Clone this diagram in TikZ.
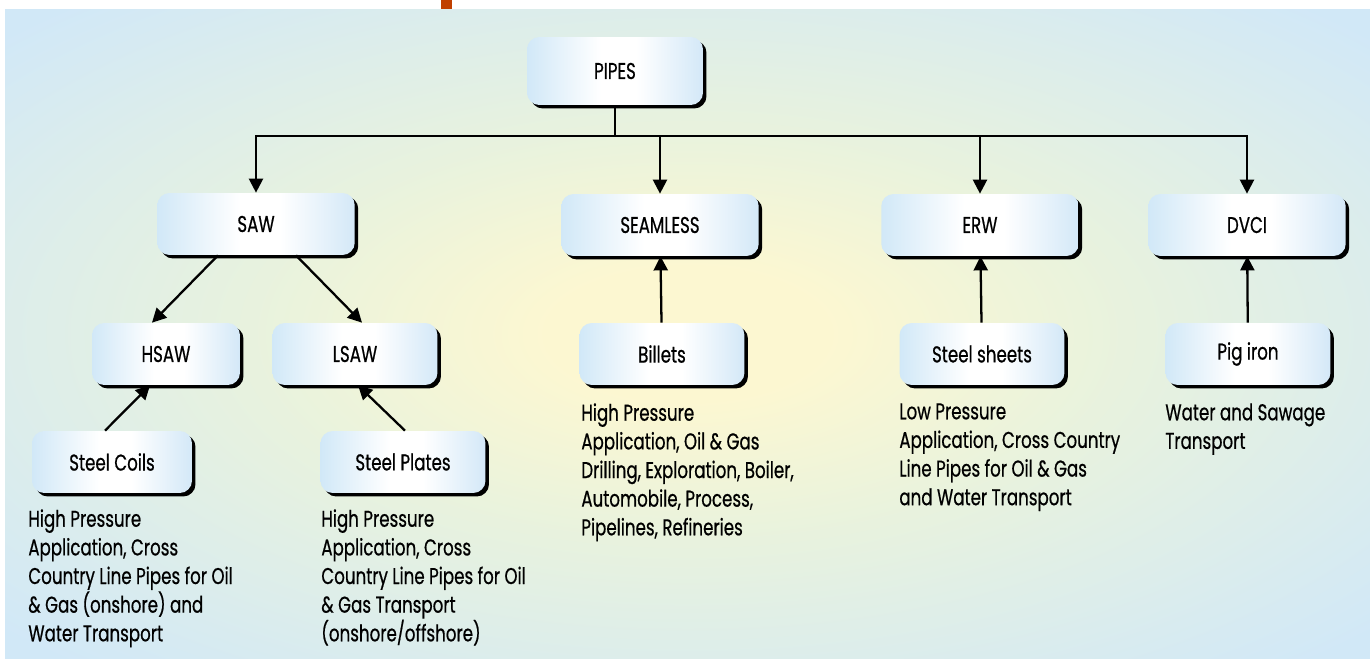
\documentclass[tikz,border=0pt]{standalone}
\usepackage{fontspec}
\setmainfont{Poppins}[FakeStretch=0.73, FakeBold=0.6]
\usepackage{tikz}
\usetikzlibrary{positioning,calc,shadows,arrows.meta}
\pgfdeclareradialshading{panelshade}{\pgfpoint{0bp}{0bp}}{rgb(0bp)=(0.99,0.97,0.82); rgb(5bp)=(0.99,0.97,0.82); rgb(16bp)=(0.91,0.95,0.87); rgb(34bp)=(0.82,0.91,0.97); rgb(50bp)=(0.82,0.91,0.97)}
\pgfdeclarehorizontalshading{boxshade}{100bp}{rgb(0bp)=(0.82,0.91,0.97); rgb(25bp)=(0.82,0.91,0.97); rgb(46bp)=(1,1,1); rgb(56bp)=(1,1,1); rgb(75bp)=(0.83,0.91,0.97); rgb(100bp)=(0.83,0.91,0.97)}
\definecolor{barorange}{RGB}{192,64,0}

\begin{document}
\begin{tikzpicture}[x=0.02cm, y=-0.02cm,
  box/.style={shade, shading=boxshade, rounded corners=7pt,
              drop shadow={shadow xshift=0.07cm, shadow yshift=-0.07cm,
                           opacity=1, fill=black},
              minimum height=1.24cm, inner sep=2pt,
              font=\fontsize{13}{15}\selectfont},
  cat/.style={box, minimum width=3.95cm},
  src/.style={box, minimum width=3.3cm},
  use/.style={anchor=north west, align=left, inner sep=0pt,
              font=\fontsize{13}{16.3}\selectfont},
  arr/.style={-{Triangle[length=8pt,width=8pt]}, line width=1.3pt}
]
\useasboundingbox (0,0) rectangle (1370,659);
\shade[shading=panelshade] (5,9) rectangle (1370,659);
\fill[barorange] (441,0) rectangle (452,9);

\node[box, minimum width=3.52cm, minimum height=1.36cm] (pipes) at (615,71) {PIPES};
\node[cat] (saw)      at (256,224)  {SAW};
\node[cat] (seamless) at (660,225)  {SEAMLESS};
\node[cat] (erw)      at (980,225)  {ERW};
\node[cat] (dvci)     at (1247,225) {DVCI};
\node[src, minimum width=2.96cm] (hsaw) at (166,354) {HSAW};
\node[src] (lsaw)     at (355,354)  {LSAW};
\node[src] (billets)  at (662,354)  {Billets};
\node[src] (sheets)   at (982,354)  {Steel sheets};
\node[src] (pigiron)  at (1248,354) {Pig iron};
\node[src, minimum width=3.2cm] (coils) at (112,462) {Steel Coils};
\node[src] (plates)   at (403,462)  {Steel Plates};

\node[use] (coilsuse)   at (28,509)   {High Pressure\\Application, Cross\\Country Line Pipes for Oil\\\& Gas (onshore) and\\Water Transport};
\node[use] (platesuse)  at (321,509)  {High Pressure\\Application, Cross\\Country Line Pipes for Oil\\\& Gas Transport\\(onshore/offshore)};
\node[use] (billetsuse) at (581,403)  {High Pressure\\Application, Oil \& Gas\\Drilling, Exploration, Boiler,\\Automobile, Process,\\Pipelines, Refineries};
\node[use] (sheetsuse)  at (899,403)  {Low Pressure\\Application, Cross Country\\Line Pipes for Oil \& Gas\\and Water Transport};
\node[use] (piguse)     at (1165,403) {Water and Sawage\\Transport};

% tree from PIPES
\coordinate (bus) at (615,136);
\draw[line width=1.3pt] (pipes.south) -- (bus);
\draw[arr] (bus) -| (saw.north);
\draw[arr] (bus) -| (dvci.north);
\draw[arr] (seamless.north |- bus) -- (seamless.north);
\draw[arr] (erw.north |- bus) -- (erw.north);

\draw[arr] ($(saw.south)+(-38,0)$) -- ($(hsaw.north)+(-14,0)$);
\draw[arr] ($(saw.south)+(40,0)$)  -- ($(lsaw.north)+(7,0)$);
\draw[arr] ($(coils.north)+(-7,0)$) -- ($(hsaw.south)+(-16,0)$);
\draw[arr] ($(plates.north)+(2,0)$) -- ($(lsaw.south)+(3,0)$);
\draw[arr] (billets) -- (seamless);
\draw[arr] (sheets)  -- (erw);
\draw[arr] (pigiron) -- (dvci);
\end{tikzpicture}
\end{document}
